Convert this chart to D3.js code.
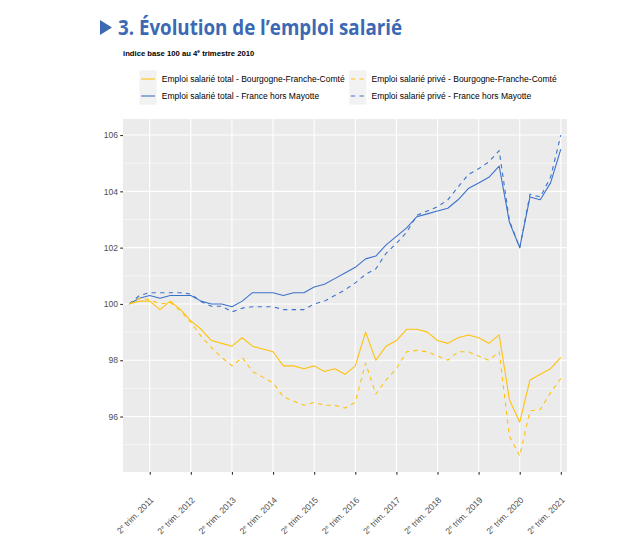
<!DOCTYPE html>
<html><head><meta charset="utf-8">
<script src="https://cdn.jsdelivr.net/npm/d3@7"></script>
<style>
html,body{margin:0;padding:0;background:#fff;}
svg{display:block;}
</style></head>
<body>
<svg id="chart" width="640" height="550"></svg>
<script>
// ---- Data ----
const quarters = [
 "T4 2010",
 "T1 2011","T2 2011","T3 2011","T4 2011",
 "T1 2012","T2 2012","T3 2012","T4 2012",
 "T1 2013","T2 2013","T3 2013","T4 2013",
 "T1 2014","T2 2014","T3 2014","T4 2014",
 "T1 2015","T2 2015","T3 2015","T4 2015",
 "T1 2016","T2 2016","T3 2016","T4 2016",
 "T1 2017","T2 2017","T3 2017","T4 2017",
 "T1 2018","T2 2018","T3 2018","T4 2018",
 "T1 2019","T2 2019","T3 2019","T4 2019",
 "T1 2020","T2 2020","T3 2020","T4 2020",
 "T1 2021","T2 2021"
];
const tickQuarters = ["T2 2011","T2 2012","T2 2013","T2 2014","T2 2015","T2 2016","T2 2017","T2 2018","T2 2019","T2 2020","T2 2021"];
const tickYears = ["2011","2012","2013","2014","2015","2016","2017","2018","2019","2020","2021"];
const yTicks = [96, 98, 100, 102, 104, 106];

const totalBFC = [100.0,
 100.1,100.1,99.8,100.1, 99.8,99.4,99.1,98.7, 98.6,98.5,98.8,98.5, 98.4,98.3,97.8,97.8,
 97.7,97.8,97.6,97.7, 97.5,97.8,99.0,98.0, 98.5,98.7,99.1,99.1, 99.0,98.7,98.6,98.8,
 98.9,98.8,98.6,98.9, 96.6,95.8,97.3,97.5, 97.7,98.1];
const priveBFC = [100.0,
 100.2,100.15,100.0,100.05, 99.75,99.35,98.85,98.45, 98.1,97.8,98.1,97.6, 97.4,97.2,96.7,96.55,
 96.4,96.5,96.4,96.4, 96.3,96.5,97.9,96.8, 97.3,97.7,98.3,98.35, 98.3,98.15,98.0,98.3,
 98.3,98.15,98.0,98.3, 95.3,94.6,96.2,96.25, 96.85,97.35];
const totalFrance = [100.0,
 100.2,100.3,100.2,100.3, 100.3,100.3,100.1,100.0, 100.0,99.9,100.1,100.4, 100.4,100.4,100.3,100.4,
 100.4,100.6,100.7,100.9, 101.1,101.3,101.6,101.7, 102.1,102.4,102.7,103.1, 103.2,103.3,103.4,103.7,
 104.1,104.3,104.5,104.9, 102.9,102.0,103.8,103.7, 104.3,105.5];
const priveFrance = [100.0,
 100.3,100.4,100.4,100.4, 100.4,100.35,100.08,99.92, 99.92,99.72,99.85,99.9, 99.9,99.9,99.8,99.8,
 99.8,100.0,100.1,100.3, 100.5,100.75,101.05,101.25, 101.8,102.15,102.55,103.15, 103.3,103.45,103.7,104.15,
 104.6,104.8,105.05,105.45, 102.95,102.0,103.9,103.8, 104.5,106.0];

const seriesNames = [
 "Emploi salarié total - Bourgogne-Franche-Comté",
 "Emploi salarié total - France hors Mayotte",
 "Emploi salarié privé - Bourgogne-Franche-Comté",
 "Emploi salarié privé - France hors Mayotte"
];
const seriesValues = [totalBFC, totalFrance, priveBFC, priveFrance];
const seriesColors = ["#FFC20E", "#3D72CB", "#FFC20E", "#3D72CB"];
const seriesDashed = [false, false, true, true];

const titleText = "3. Évolution de l’emploi salarié";

// ---- Layout ----
const svg = d3.select("#chart");
const P = {left:123, right:567, top:119, bottom:472};

// Title
svg.append("path")
  .attr("d", d3.line()([[100,20],[112,27.5],[100,35]]) + "Z")
  .attr("fill", "#3B69B3");
const title = svg.append("text")
  .attr("x", 118).attr("y", 34.5)
  .attr("font-family", "'Open Sans', sans-serif")
  .attr("font-weight", 700)
  .attr("font-size", 20.5)
  .attr("fill", "#3B69B3")
  .text(titleText);
const tl = title.node().getComputedTextLength();
if (tl > 284) title.attr("textLength", 284).attr("lengthAdjust", "spacingAndGlyphs");

// Subtitle
const sub = svg.append("text")
  .attr("x", 123).attr("y", 56)
  .attr("font-family", "'Liberation Sans', Arial, sans-serif")
  .attr("font-weight", 700)
  .attr("font-size", 7.7)
  .attr("fill", "#000");
sub.append("tspan").text("indice base 100 au 4");
sub.append("tspan").attr("font-size", 4.8).attr("dy", -2.7).text("e");
sub.append("tspan").attr("dy", 2.7).text(" trimestre 2010");

// Scales
const x = d3.scalePoint().domain(quarters).range([P.left, P.right]).padding(0.6);
const allVals = seriesValues.flat();
const [vmin, vmax] = d3.extent(allVals);
const pad = (vmax - vmin) * 0.05;
const y = d3.scaleLinear().domain([vmin - pad, vmax + pad]).range([P.bottom, P.top]);

// Panel
svg.append("rect")
  .attr("x", P.left).attr("y", P.top)
  .attr("width", P.right - P.left).attr("height", P.bottom - P.top)
  .attr("fill", "#EBEBEB");

const grid = svg.append("g");
const minorTicks = [95, 97, 99, 101, 103, 105];
grid.selectAll(".hmin").data(minorTicks).join("line")
  .attr("x1", P.left).attr("x2", P.right)
  .attr("y1", d => y(d)).attr("y2", d => y(d))
  .attr("stroke", "#fff").attr("stroke-width", 0.55);
grid.selectAll(".hmaj").data(yTicks).join("line")
  .attr("x1", P.left).attr("x2", P.right)
  .attr("y1", d => y(d)).attr("y2", d => y(d))
  .attr("stroke", "#fff").attr("stroke-width", 1.1);
grid.selectAll(".vmaj").data(tickQuarters).join("line")
  .attr("y1", P.top).attr("y2", P.bottom)
  .attr("x1", d => x(d)).attr("x2", d => x(d))
  .attr("stroke", "#fff").attr("stroke-width", 1.1);

// Lines
const line = d3.line().x((d,i) => x(quarters[i])).y(d => y(d));
const order = [1, 3, 0, 2];
order.forEach(k => {
  svg.append("path")
    .datum(seriesValues[k])
    .attr("d", line)
    .attr("fill", "none")
    .attr("stroke", seriesColors[k])
    .attr("stroke-width", 1.1)
    .attr("stroke-linejoin", "round")
    .attr("stroke-dasharray", seriesDashed[k] ? "4.3,4.3" : null);
});

// Y axis
const yAxis = svg.append("g")
  .attr("transform", `translate(${P.left},0)`)
  .call(d3.axisLeft(y).tickValues(yTicks).tickSize(2.8).tickPadding(2.2).tickFormat(d3.format("d")));
yAxis.select(".domain").remove();
yAxis.selectAll(".tick line").attr("stroke", "#333").attr("stroke-width", 1.1);
yAxis.selectAll(".tick text")
  .attr("fill", "#4D4D4D")
  .attr("font-family", "'Liberation Sans', Arial, sans-serif")
  .attr("font-size", 8.5);

// X axis
const xAxis = svg.append("g")
  .attr("transform", `translate(0,${P.bottom})`)
  .call(d3.axisBottom(x).tickValues(tickQuarters).tickSize(2.8).tickFormat(""));
xAxis.select(".domain").remove();
xAxis.selectAll(".tick line").attr("stroke", "#333").attr("stroke-width", 1.1);

const xl = svg.append("g");
tickQuarters.forEach((q, i) => {
  const tx = x(q) + 4.5, ty = 500.5;
  const t = xl.append("text")
    .attr("transform", `translate(${tx},${ty}) rotate(-45)`)
    .attr("text-anchor", "end")
    .attr("font-family", "'Liberation Sans', Arial, sans-serif")
    .attr("font-size", 8.6)
    .attr("fill", "#4D4D4D");
  t.append("tspan").text("2");
  t.append("tspan").attr("font-size", 5.4).attr("dy", -3).text("e");
  t.append("tspan").attr("dy", 3).text(" trim. " + tickYears[i]);
});

// Legend
const legendPos = [
  {kx:139.5, ty:79},
  {kx:139.5, ty:96},
  {kx:349.2, ty:79},
  {kx:349.2, ty:96}
];
const lg = svg.append("g");
seriesNames.forEach((name, k) => {
  const p = legendPos[k];
  lg.append("rect")
    .attr("x", p.kx).attr("y", p.ty - 8.6)
    .attr("width", 17.2).attr("height", 17.2)
    .attr("fill", "#F2F2F2");
  lg.append("line")
    .attr("x1", p.kx + 1.7).attr("x2", p.kx + 15.5)
    .attr("y1", p.ty).attr("y2", p.ty)
    .attr("stroke", seriesColors[k]).attr("stroke-width", 1.1)
    .attr("stroke-dasharray", seriesDashed[k] ? "4.3,4.3" : null);
  lg.append("text")
    .attr("x", p.kx + 22.3).attr("y", p.ty + 3.1)
    .attr("font-family", "'Liberation Sans', Arial, sans-serif")
    .attr("font-size", 8.5)
    .attr("fill", "#000")
    .text(name);
});
</script>
</body></html>
